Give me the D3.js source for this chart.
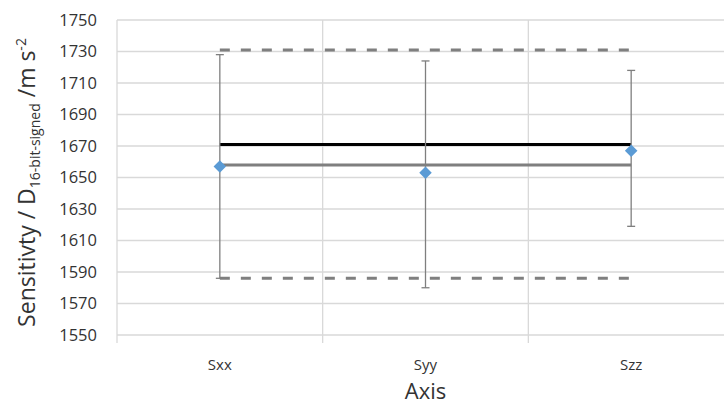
<!DOCTYPE html>
<html>
<head>
<meta charset="utf-8">
<script src="https://cdn.jsdelivr.net/npm/d3@7"></script>
<style>
  body { margin: 0; background: #fff; }
  text { font-family: "Open Sans", "Noto Sans", sans-serif; fill: #000; }
</style>
</head>
<body>
<div id="chart"></div>
<script>
// chart data
const categories = ['Sxx', 'Syy', 'Szz'];
const values = [1657, 1653, 1667];
const errHigh = [1728, 1724, 1718];
const errLow = [1586, 1580, 1619];
const meanLine = [1658, 1658, 1658];
const refLine = [1671, 1671, 1671];
const upperLimit = [1731, 1731, 1731];
const lowerLimit = [1586, 1586, 1586];
const yTicks = [1550, 1570, 1590, 1610, 1630, 1650, 1670, 1690, 1710, 1730, 1750];

const width = 724, height = 405;
const margin = { top: 20, right: -10, bottom: 70, left: 117 };

const svg = d3.select('#chart')
  .append('svg')
  .attr('width', width)
  .attr('height', height);

const x = d3.scaleBand()
  .domain(categories)
  .range([margin.left, width - margin.right]);

const y = d3.scaleLinear()
  .domain([1550, 1750])
  .range([height - margin.bottom, margin.top]);

const cx = d => x(d) + x.bandwidth() / 2;

// horizontal gridlines
svg.append('g')
  .selectAll('line')
  .data(yTicks)
  .enter()
  .append('line')
  .attr('x1', margin.left)
  .attr('x2', width)
  .attr('y1', d => y(d))
  .attr('y2', d => y(d))
  .attr('stroke', '#d9d9d9')
  .attr('stroke-width', 1.3);

// vertical gridlines between categories (with tick below axis)
svg.append('g')
  .selectAll('line')
  .data(categories)
  .enter()
  .append('line')
  .attr('x1', d => x(d))
  .attr('x2', d => x(d))
  .attr('y1', y(1750))
  .attr('y2', y(1550) + 8)
  .attr('stroke', '#d9d9d9')
  .attr('stroke-width', 1.3);

// y tick labels
svg.append('g')
  .selectAll('text')
  .data(yTicks)
  .enter()
  .append('text')
  .attr('x', 97)
  .attr('y', d => y(d))
  .attr('dy', '0.36em')
  .attr('text-anchor', 'end')
  .style('font-size', '16.5px')
  .style('fill', '#333')
  .text(d => d);

// x tick labels
svg.append('g')
  .selectAll('text')
  .data(categories)
  .enter()
  .append('text')
  .attr('x', d => cx(d))
  .attr('y', 370)
  .attr('text-anchor', 'middle')
  .style('font-size', '15px')
  .style('fill', '#333')
  .text(d => d);

// axis titles
svg.append('text')
  .attr('x', (margin.left + width - margin.right) / 2)
  .attr('y', 399)
  .attr('text-anchor', 'middle')
  .style('font-size', '22px')
  .style('fill', '#333')
  .text('Axis');

const yt = svg.append('text')
  .attr('transform', `translate(35,${(margin.top + height - margin.bottom) / 2 + 5}) rotate(-90)`)
  .attr('text-anchor', 'middle')
  .style('font-size', '23px')
  .style('fill', '#333');
yt.append('tspan').text('Sensitivty / D');
yt.append('tspan').attr('dy', 5).style('font-size', '14px').text('16-bit-signed');
yt.append('tspan').attr('dy', -5).text(' /m s');
yt.append('tspan').attr('dy', -9).style('font-size', '14px').text('-2');

// reference lines
const line = d3.line()
  .x((d, i) => cx(categories[i]))
  .y(d => y(d));

const lines = [
  { data: upperLimit, color: '#7f7f7f', dash: '10,11' },
  { data: lowerLimit, color: '#7f7f7f', dash: '10,11' },
  { data: refLine, color: '#000000', dash: null },
  { data: meanLine, color: '#7f7f7f', dash: null }
];

svg.append('g')
  .selectAll('path')
  .data(lines)
  .enter()
  .append('path')
  .attr('d', d => line(d.data))
  .attr('fill', 'none')
  .attr('stroke', d => d.color)
  .attr('stroke-width', 3)
  .attr('stroke-dasharray', d => d.dash);

// error bars
const eb = svg.append('g')
  .attr('stroke', '#7f7f7f')
  .attr('stroke-width', 1.3);

categories.forEach((c, i) => {
  eb.append('line')
    .attr('x1', cx(c)).attr('x2', cx(c))
    .attr('y1', y(errHigh[i])).attr('y2', y(errLow[i]));
  [errHigh[i], errLow[i]].forEach(v => {
    eb.append('line')
      .attr('x1', cx(c) - 4).attr('x2', cx(c) + 4)
      .attr('y1', y(v)).attr('y2', y(v));
  });
});

// diamond markers
svg.append('g')
  .selectAll('path')
  .data(values)
  .enter()
  .append('path')
  .attr('transform', (d, i) => `translate(${cx(categories[i])},${y(d)})`)
  .attr('d', d3.symbol().type(d3.symbolDiamond2).size(100))
  .attr('fill', '#5b9bd5');
</script>
</body>
</html>
